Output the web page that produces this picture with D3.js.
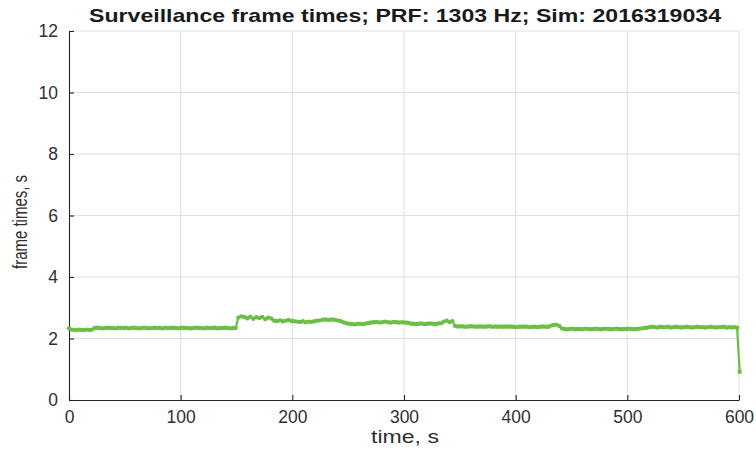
<!DOCTYPE html>
<html>
<head>
<meta charset="utf-8">
<script src="https://cdn.jsdelivr.net/npm/d3@7"></script>
<style>
  html, body { margin: 0; padding: 0; background: #fff; }
  text { font-family: "Liberation Sans", Arial, Helvetica, sans-serif; }
</style>
</head>
<body>
<svg id="chart" width="756" height="451"></svg>
<script>
// ---- data (frame durations in s, in frame order; frame start time = sum of previous durations) ----
const frameTimes = [
  2.33, 2.29, 2.28, 2.28, 2.29, 2.28, 2.28, 2.29, 2.28, 2.29,
  2.34, 2.35, 2.34, 2.33, 2.34, 2.35, 2.34, 2.34, 2.33, 2.35,
  2.34, 2.34, 2.35, 2.33, 2.34, 2.35, 2.34, 2.33, 2.34, 2.35,
  2.34, 2.33, 2.34, 2.35, 2.34, 2.34, 2.33, 2.35, 2.34, 2.34,
  2.35, 2.34, 2.33, 2.34, 2.35, 2.34, 2.34, 2.33, 2.34, 2.35,
  2.34, 2.34, 2.33, 2.35, 2.34, 2.34, 2.35, 2.33, 2.34, 2.34,
  2.35, 2.34, 2.33, 2.34, 2.34,
  2.68, 2.72, 2.70, 2.66, 2.71, 2.64, 2.69, 2.67, 2.70, 2.63, 2.68, 2.65,
  2.58, 2.57, 2.59, 2.56, 2.58, 2.60, 2.57, 2.56,
  2.55, 2.54, 2.56, 2.53, 2.55, 2.54, 2.56, 2.58, 2.59,
  2.61, 2.62, 2.60, 2.62, 2.61, 2.59,
  2.57, 2.53, 2.50, 2.48,
  2.47, 2.46, 2.47, 2.48, 2.47, 2.49, 2.50,
  2.52, 2.53, 2.54, 2.52, 2.53, 2.55, 2.53, 2.52, 2.54, 2.53, 2.52, 2.53, 2.52, 2.51,
  2.49, 2.48, 2.47, 2.48, 2.49, 2.47, 2.48, 2.49, 2.48, 2.47, 2.49, 2.50,
  2.55, 2.58, 2.54, 2.56,
  2.41, 2.39, 2.40, 2.39, 2.38, 2.39, 2.40, 2.39, 2.38, 2.39,
  2.39, 2.38, 2.39, 2.40, 2.38, 2.39, 2.38, 2.39, 2.38, 2.39,
  2.38, 2.39, 2.38, 2.37, 2.38, 2.38, 2.39, 2.38, 2.37, 2.38,
  2.38, 2.37, 2.38, 2.39, 2.38, 2.38,
  2.42, 2.44, 2.45, 2.41,
  2.33, 2.31, 2.30, 2.31, 2.32, 2.30, 2.31, 2.31, 2.30, 2.32,
  2.31, 2.30, 2.31, 2.32, 2.31, 2.30, 2.31, 2.32, 2.31, 2.30,
  2.31, 2.32, 2.31, 2.30, 2.31, 2.31, 2.32, 2.31, 2.30, 2.31,
  2.32, 2.33, 2.34, 2.35,
  2.37, 2.38, 2.37, 2.36, 2.38, 2.37, 2.37, 2.38, 2.36, 2.37,
  2.38, 2.37, 2.36, 2.37, 2.38, 2.37, 2.36, 2.37, 2.38, 2.37,
  2.37, 2.36, 2.37, 2.38, 2.37, 2.36, 2.37, 2.37, 2.38, 2.36,
  2.37, 2.36, 2.37,
  2.35, 0.92
];
const xTicks = [0, 100, 200, 300, 400, 500, 600];
const yTicks = [0, 2, 4, 6, 8, 10, 12];
const titleText = "Surveillance frame times; PRF: 1303 Hz; Sim: 2016319034";
const xLabel = "time, s";
const yLabel = "frame times, s";

// frame start times
const starts = [0, ...d3.cumsum(frameTimes.slice(0, -1))];
const points = frameTimes.map((v, i) => ({ t: starts[i], v }));

const svg = d3.select("#chart");
const L = 69, R = 739, T = 31, B = 400;
const x = d3.scaleLinear().domain([0, 600]).range([L, R]);
const y = d3.scaleLinear().domain([0, 12]).range([B, T]);

const gridColor = "#e0e0e0", axisColor = "#262626", lineColor = "#6cbf46", textColor = "#303030";

// grid
svg.append("g").selectAll("line").data(xTicks.slice(1)).join("line")
  .attr("x1", d => x(d)).attr("x2", d => x(d)).attr("y1", T).attr("y2", B)
  .attr("stroke", gridColor).attr("stroke-width", 1);
svg.append("g").selectAll("line").data(yTicks.slice(1)).join("line")
  .attr("x1", L).attr("x2", R).attr("y1", d => y(d)).attr("y2", d => y(d))
  .attr("stroke", gridColor).attr("stroke-width", 1);

// axes
const xAxis = svg.append("g").attr("transform", `translate(0,${B})`)
  .call(d3.axisBottom(x).tickValues(xTicks).tickSizeInner(-5).tickSizeOuter(0).tickPadding(11));
const yAxis = svg.append("g").attr("transform", `translate(${L},0)`)
  .call(d3.axisLeft(y).tickValues(yTicks).tickSizeInner(-5).tickSizeOuter(0).tickPadding(11));
[xAxis, yAxis].forEach(g => {
  g.select(".domain").attr("stroke", axisColor).attr("stroke-width", 1.1);
  g.selectAll(".tick line").attr("stroke", axisColor).attr("stroke-width", 1.1);
  g.selectAll(".tick text").attr("fill", textColor).attr("font-size", 17.5)
    .attr("font-family", "Liberation Sans, Arial, sans-serif");
});

// line + markers
svg.append("path").datum(points)
  .attr("fill", "none").attr("stroke", lineColor).attr("stroke-width", 2.2)
  .attr("d", d3.line().x(d => x(d.t)).y(d => y(d.v)));
svg.append("g").selectAll("circle").data(points).join("circle")
  .attr("cx", d => x(d.t)).attr("cy", d => y(d.v)).attr("r", 2.2)
  .attr("fill", lineColor);

// title
svg.append("text").attr("x", 405).attr("y", 22).attr("text-anchor", "middle")
  .attr("font-size", 19).attr("font-weight", "bold").attr("fill", "#1a1a1a")
  .attr("textLength", 632).attr("lengthAdjust", "spacingAndGlyphs")
  .text(titleText);

// axis labels
svg.append("text").attr("x", 405).attr("y", 443).attr("text-anchor", "middle")
  .attr("font-size", 19).attr("fill", textColor)
  .attr("textLength", 68).attr("lengthAdjust", "spacingAndGlyphs")
  .text(xLabel);
svg.append("text").attr("transform", "translate(27,222) rotate(-90)")
  .attr("text-anchor", "middle").attr("font-size", 20).attr("fill", textColor)
  .attr("textLength", 94).attr("lengthAdjust", "spacingAndGlyphs")
  .text(yLabel);
</script>
</body>
</html>
